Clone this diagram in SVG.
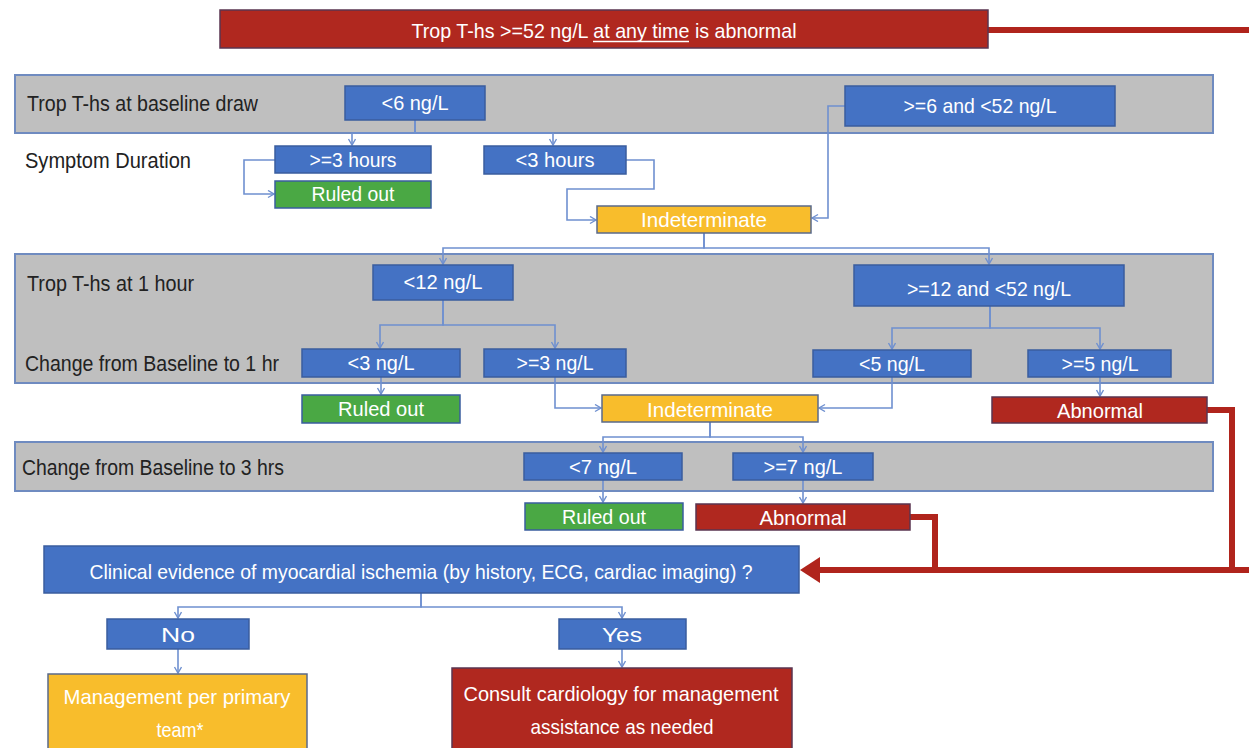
<svg xmlns="http://www.w3.org/2000/svg" width="1249" height="748" viewBox="0 0 1249 748">
<style>
  .panel{fill:#bfbfbf;stroke:#6f8bc0;stroke-width:2}
  .blue{fill:#4472c4;stroke:#3a5d9e;stroke-width:1.5}
  .green{fill:#4aa844;stroke:#3a5d9e;stroke-width:1.5}
  .yellow{fill:#f8bd2c;stroke:#5a6a8a;stroke-width:1.5}
  .red{fill:#b0281f;stroke:#5a3550;stroke-width:1.5}
  .t{font-family:"Liberation Sans",Arial,sans-serif;font-size:21px;fill:#ffffff;text-anchor:middle}
  .lbl{font-family:"Liberation Sans",Arial,sans-serif;font-size:22px;fill:#222222}
  .conn{fill:none;stroke:#6f90d0;stroke-width:1.6;marker-end:url(#arr)}
  .rconn{fill:none;stroke:#b0241c;stroke-width:6}
</style>
<defs>
  <marker id="arr" markerWidth="10" markerHeight="10" refX="7" refY="4" orient="auto" markerUnits="userSpaceOnUse">
    <path d="M1,0.5 L7,4 L1,7.5" fill="none" stroke="#6f90d0" stroke-width="1.4"/>
  </marker>
  <marker id="rarr" markerWidth="24" markerHeight="30" refX="8" refY="13" orient="auto" markerUnits="userSpaceOnUse">
    <path d="M0,0 L20,13 L0,26 Z" fill="#b0241c"/>
  </marker>
</defs>

<g id="panels">
  <g id="panel-baseline"><rect class="panel" x="15" y="75" width="1198" height="58"/>
    <text class="lbl" x="27" y="111" textLength="231" lengthAdjust="spacingAndGlyphs">Trop T-hs at baseline draw</text></g>
  <g id="panel-1hour"><rect class="panel" x="15" y="254" width="1198" height="129"/>
    <text class="lbl" x="27" y="291" textLength="167" lengthAdjust="spacingAndGlyphs">Trop T-hs at 1 hour</text>
    <text class="lbl" x="25" y="371" textLength="254" lengthAdjust="spacingAndGlyphs">Change from Baseline to 1 hr</text></g>
  <g id="panel-3hrs"><rect class="panel" x="15" y="442" width="1198" height="49"/>
    <text class="lbl" x="22" y="475" textLength="262" lengthAdjust="spacingAndGlyphs">Change from Baseline to 3 hrs</text></g>
  <g id="label-symptom"><text class="lbl" x="25" y="168" textLength="166" lengthAdjust="spacingAndGlyphs">Symptom Duration</text></g>
</g>

<g id="connectors">
  <path class="conn" d="M415,120 V133 H352 V145"/>
  <path class="conn" d="M415,120 V133 H553 V145"/>
  <path class="conn" d="M275,160 H244 V194 H274"/>
  <path class="conn" d="M626,160 H654 V189 H567 V220 H596"/>
  <path class="conn" d="M845,106 H828 V218 H812"/>
  <path class="conn" d="M704,233 V248 H443 V264"/>
  <path class="conn" d="M704,233 V248 H989 V264"/>
  <path class="conn" d="M443,300 V325 H380 V348"/>
  <path class="conn" d="M443,300 V325 H555 V348"/>
  <path class="conn" d="M990,306 V328 H892 V349"/>
  <path class="conn" d="M990,306 V328 H1100 V349"/>
  <path class="conn" d="M381,377 V394"/>
  <path class="conn" d="M555,377 V408 H601"/>
  <path class="conn" d="M892,377 V408 H819"/>
  <path class="conn" d="M1100,377 V396"/>
  <path class="conn" d="M710,421 V437 H603 V452"/>
  <path class="conn" d="M710,421 V437 H803 V452"/>
  <path class="conn" d="M603,480 V502"/>
  <path class="conn" d="M803,480 V503"/>
  <path class="conn" d="M421,593 V607 H178 V618"/>
  <path class="conn" d="M421,593 V607 H622 V618"/>
  <path class="conn" d="M178,649 V673"/>
  <path class="conn" d="M622,649 V667"/>
  <path class="rconn" d="M988,30 H1258 V570 H812" marker-end="url(#rarr)"/>
  <path class="rconn" d="M1207,410 H1232 V570"/>
  <path class="rconn" d="M910,517 H935 V570"/>
</g>

<g id="banner"><rect class="red" x="220" y="10" width="768" height="38"/>
  <text class="t" x="604" y="38" font-size="22" textLength="385" lengthAdjust="spacingAndGlyphs">Trop T-hs &gt;=52 ng/L at any time is abnormal</text>
  <line x1="593" y1="41.5" x2="689" y2="41.5" stroke="#ffffff" stroke-width="1.5"/></g>

<g id="base-lt6"><rect class="blue" x="345" y="86" width="140" height="34"/>
  <text class="t" x="415" y="110" textLength="67" lengthAdjust="spacingAndGlyphs">&lt;6 ng/L</text></g>
<g id="base-ge6"><rect class="blue" x="845" y="86" width="270" height="40"/>
  <text class="t" x="980" y="113" textLength="153" lengthAdjust="spacingAndGlyphs">&gt;=6 and &lt;52 ng/L</text></g>
<g id="sym-ge3"><rect class="blue" x="275" y="146" width="156" height="27"/>
  <text class="t" x="353" y="167" textLength="87" lengthAdjust="spacingAndGlyphs">&gt;=3 hours</text></g>
<g id="ruled-out-1"><rect class="green" x="275" y="181" width="156" height="27"/>
  <text class="t" x="353" y="201" textLength="83" lengthAdjust="spacingAndGlyphs">Ruled out</text></g>
<g id="sym-lt3"><rect class="blue" x="484" y="146" width="142" height="28"/>
  <text class="t" x="555" y="167" textLength="79" lengthAdjust="spacingAndGlyphs">&lt;3 hours</text></g>
<g id="indeterminate-1"><rect class="yellow" x="597" y="206" width="214" height="27"/>
  <text class="t" x="704" y="227" textLength="126" lengthAdjust="spacingAndGlyphs">Indeterminate</text></g>

<g id="h1-lt12"><rect class="blue" x="373" y="265" width="140" height="35"/>
  <text class="t" x="443" y="289" textLength="79" lengthAdjust="spacingAndGlyphs">&lt;12 ng/L</text></g>
<g id="h1-ge12"><rect class="blue" x="854" y="265" width="270" height="41"/>
  <text class="t" x="989" y="296" textLength="164" lengthAdjust="spacingAndGlyphs">&gt;=12 and &lt;52 ng/L</text></g>
<g id="c1-lt3"><rect class="blue" x="302" y="349" width="158" height="28"/>
  <text class="t" x="381" y="370" textLength="67" lengthAdjust="spacingAndGlyphs">&lt;3 ng/L</text></g>
<g id="c1-ge3"><rect class="blue" x="484" y="349" width="142" height="28"/>
  <text class="t" x="555" y="370" textLength="77" lengthAdjust="spacingAndGlyphs">&gt;=3 ng/L</text></g>
<g id="c1-lt5"><rect class="blue" x="813" y="350" width="158" height="27"/>
  <text class="t" x="892" y="371" textLength="66" lengthAdjust="spacingAndGlyphs">&lt;5 ng/L</text></g>
<g id="c1-ge5"><rect class="blue" x="1028" y="350" width="143" height="27"/>
  <text class="t" x="1100" y="371" textLength="77" lengthAdjust="spacingAndGlyphs">&gt;=5 ng/L</text></g>
<g id="ruled-out-2"><rect class="green" x="302" y="395" width="158" height="28"/>
  <text class="t" x="381" y="416" textLength="86" lengthAdjust="spacingAndGlyphs">Ruled out</text></g>
<g id="indeterminate-2"><rect class="yellow" x="602" y="395" width="216" height="27"/>
  <text class="t" x="710" y="417" textLength="126" lengthAdjust="spacingAndGlyphs">Indeterminate</text></g>
<g id="abnormal-1"><rect class="red" x="992" y="397" width="215" height="26"/>
  <text class="t" x="1100" y="418" textLength="86" lengthAdjust="spacingAndGlyphs">Abnormal</text></g>

<g id="c3-lt7"><rect class="blue" x="524" y="453" width="158" height="27"/>
  <text class="t" x="603" y="474" textLength="68" lengthAdjust="spacingAndGlyphs">&lt;7 ng/L</text></g>
<g id="c3-ge7"><rect class="blue" x="733" y="453" width="140" height="27"/>
  <text class="t" x="803" y="474" textLength="79" lengthAdjust="spacingAndGlyphs">&gt;=7 ng/L</text></g>
<g id="ruled-out-3"><rect class="green" x="525" y="503" width="158" height="27"/>
  <text class="t" x="604" y="524" textLength="84" lengthAdjust="spacingAndGlyphs">Ruled out</text></g>
<g id="abnormal-2"><rect class="red" x="696" y="504" width="214" height="26"/>
  <text class="t" x="803" y="525" textLength="87" lengthAdjust="spacingAndGlyphs">Abnormal</text></g>

<g id="clinical"><rect class="blue" x="44" y="546" width="755" height="47"/>
  <text class="t" x="421" y="579" textLength="663" lengthAdjust="spacingAndGlyphs">Clinical evidence of myocardial ischemia (by history, ECG, cardiac imaging) ?</text></g>
<g id="no"><rect class="blue" x="107" y="619" width="142" height="30"/>
  <text class="t" x="178" y="642" textLength="34" lengthAdjust="spacingAndGlyphs">No</text></g>
<g id="yes"><rect class="blue" x="559" y="619" width="127" height="30"/>
  <text class="t" x="622" y="642" textLength="40" lengthAdjust="spacingAndGlyphs">Yes</text></g>
<g id="management"><rect class="yellow" x="48" y="674" width="259" height="82"/>
  <text class="t" x="177" y="704" textLength="227" lengthAdjust="spacingAndGlyphs">Management per primary</text>
  <text class="t" x="180" y="737" textLength="47" lengthAdjust="spacingAndGlyphs">team*</text></g>
<g id="consult"><rect class="red" x="452" y="668" width="340" height="88"/>
  <text class="t" x="621" y="701" textLength="315" lengthAdjust="spacingAndGlyphs">Consult cardiology for management</text>
  <text class="t" x="622" y="734" textLength="183" lengthAdjust="spacingAndGlyphs">assistance as needed</text></g>
</svg>
